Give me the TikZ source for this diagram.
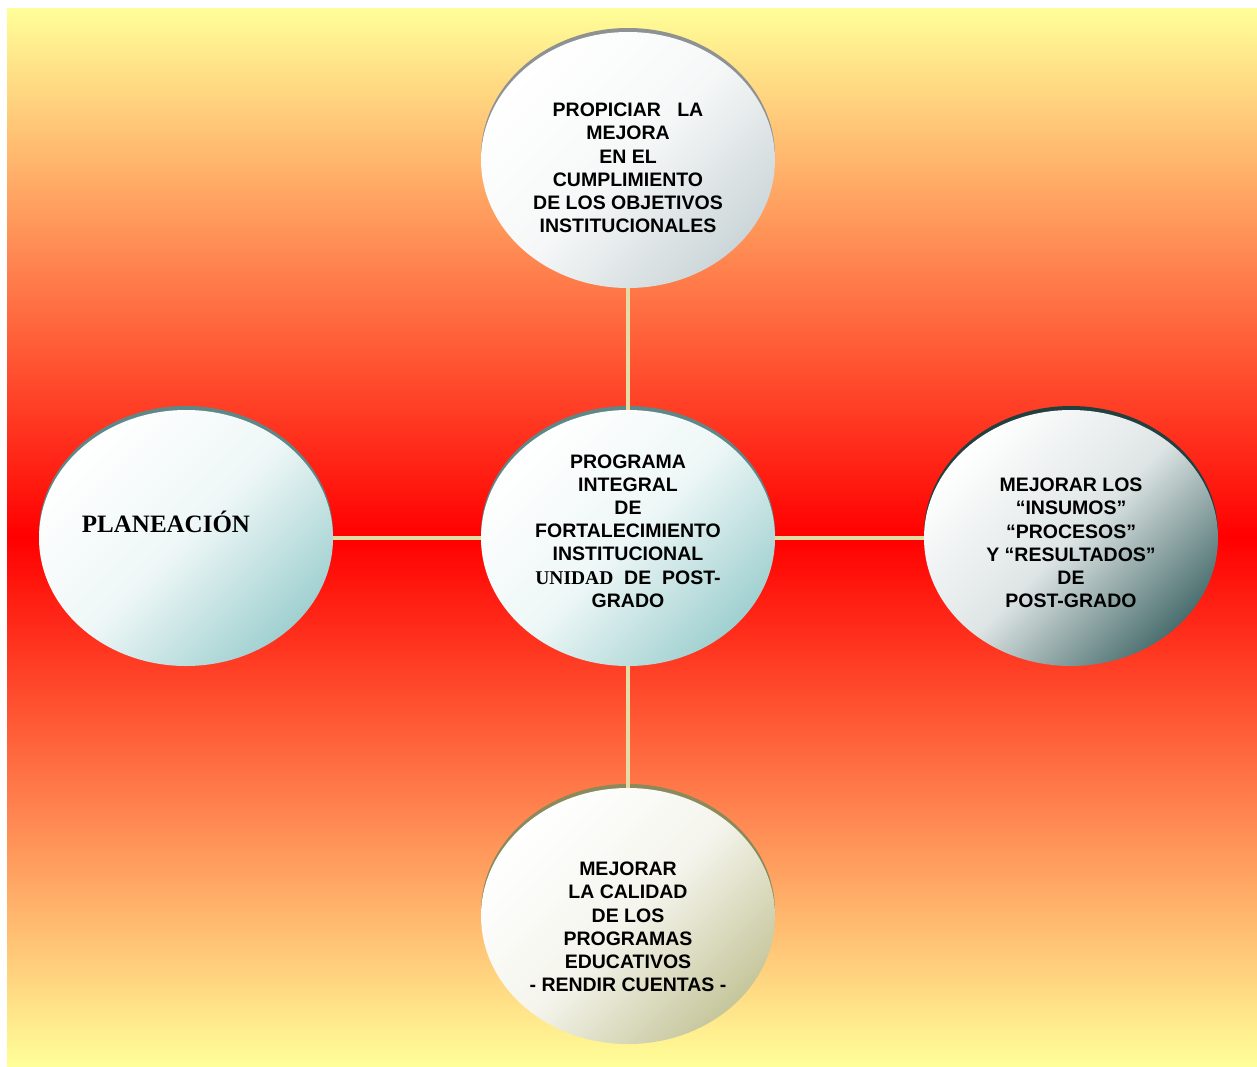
\documentclass[tikz,border=0pt]{standalone}
\usepackage{fontspec}
\setmainfont{Liberation Sans}
\newfontfamily\romana{Liberation Serif}
\usepackage{xcolor}
\usetikzlibrary{shapes.geometric}
\definecolor{fondo}{HTML}{FFFF99}
\definecolor{enlace}{HTML}{E4DCA4}
\definecolor{grisclaro}{HTML}{CCD6D8}\definecolor{grisborde}{HTML}{8E9292}
\definecolor{turquesa}{HTML}{A0D0D0}\definecolor{turqborde}{HTML}{5E8888}
\definecolor{pizarra}{HTML}{4A6E6E}\definecolor{pizborde}{HTML}{224040}
\definecolor{caqui}{HTML}{C6C69C}\definecolor{caqborde}{HTML}{8A8A5C}
\tikzset{
  burbuja/.style 2 args={ellipse,minimum width=294pt,minimum height=256pt,inner sep=0pt,
    preaction={fill=#2,transform canvas={yshift=4pt}},
    top color=white,bottom color=#1,middle color=white!82!#1,shading angle=45},
  rotulo/.style={align=center,font=\bfseries\fontsize{19.5}{23.2}\selectfont},
  linea/.style={line width=4pt,draw=enlace}
}
\begin{document}
\begin{tikzpicture}[x=1pt,y=-1pt]
\useasboundingbox (0,0) rectangle (1257,1066);
\fill[top color=fondo,bottom color=fondo,middle color=red](7,8)rectangle(1257,1066);
% circulos
\node[burbuja={grisclaro}{grisborde}] (sup) at (628,160){};
\node[burbuja={turquesa}{turqborde}] (plan) at (186,538){};
\node[burbuja={pizarra}{pizborde}] (der) at (1071,538){};
\node[burbuja={caqui}{caqborde}] (inf) at (628,916){};
\node[burbuja={turquesa}{turqborde}] (centro) at (628,538){};
% lineas
\draw[linea](centro)--(sup) (centro)--(inf) (centro)--(plan) (centro)--(der);
% textos
\node[rotulo] (tsup) at (628,168){PROPICIAR\ \ \ LA\\MEJORA\\EN EL\\CUMPLIMIENTO\\DE LOS OBJETIVOS\\INSTITUCIONALES};
\node[rotulo,font=\romana\bfseries\fontsize{25}{28}\selectfont] (tplan) at (166,522){PLANEACIÓN};
\node[rotulo] (tcentro) at (628,531){PROGRAMA\\INTEGRAL\\DE\\FORTALECIMIENTO\\INSTITUCIONAL\\{\romana UNIDAD}\ \ DE\ \ POST-\\GRADO};
\node[rotulo] (tder) at (1071,543){MEJORAR LOS\\“INSUMOS”\\“PROCESOS”\\Y “RESULTADOS”\\DE\\POST-GRADO};
\node[rotulo] (tinf) at (628,927){MEJORAR\\LA CALIDAD\\DE LOS\\PROGRAMAS\\EDUCATIVOS\\- RENDIR CUENTAS -};
\end{tikzpicture}
\end{document}
